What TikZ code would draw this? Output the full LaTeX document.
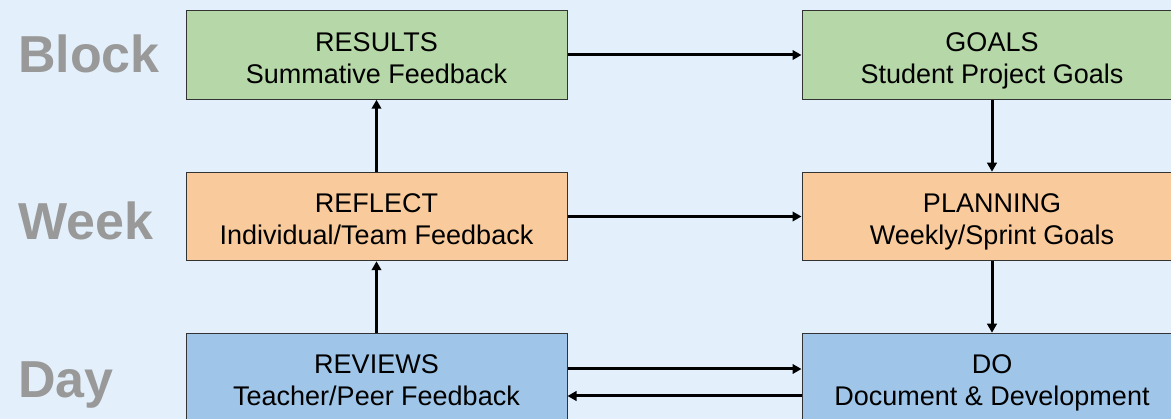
\documentclass[tikz,border=0pt]{standalone}
\usepackage{fontspec}
\setmainfont{Liberation Sans}
\usetikzlibrary{arrows.meta}
\definecolor{bgblue}{HTML}{E3F0FB}
\definecolor{boxgreen}{HTML}{B6D7A8}
\definecolor{boxorange}{HTML}{F9CB9C}
\definecolor{boxblue}{HTML}{9FC5E8}
\definecolor{labelgray}{HTML}{999999}
\definecolor{edgegray}{HTML}{333333}
\tikzset{
  stagebox/.style={draw=edgegray, line width=1pt, minimum height=88.5pt,
    inner sep=0pt},
  leftbox/.style={stagebox, minimum width=381pt},
  rightbox/.style={stagebox, minimum width=380pt},
  stagetext/.style={anchor=base, inner sep=0pt,
    font=\fontsize{27}{31}\selectfont},
  flow/.style={line width=3pt, -{Triangle[length=9pt,width=9.5pt]}},
  levellabel/.style={anchor=base west, inner sep=0pt, text=labelgray,
    font=\fontsize{52}{52}\selectfont\bfseries},
}
% title line sits 3.5pt above the box centre, subtitle 28.5pt below it
\newcommand{\stagelines}[3]{%
  \node[stagetext] (#1-title) at ([yshift=3.5pt]#1.center) {#2};
  \node[stagetext] (#1-sub)   at ([yshift=-28.5pt]#1.center) {#3};
}
\begin{document}
\begin{tikzpicture}[x=1pt,y=-1pt]
  \clip (0,0) rectangle (1171,419);
  \fill[bgblue] (0,0) rectangle (1171,419);

  % time-scale labels
  \node[levellabel] (lblock) at (18,73)  {Block};
  \node[levellabel] (lweek)  at (18,240) {Week};
  \node[levellabel] (lday)   at (18,398) {Day};

  % stage boxes
  \node[leftbox, fill=boxgreen]   (results)  at (376.5,55)    {};
  \node[rightbox, fill=boxgreen]  (goals)    at (992,55)      {};
  \node[leftbox, fill=boxorange]  (reflect)  at (376.5,216.5) {};
  \node[rightbox, fill=boxorange] (planning) at (992,216.5)   {};
  \node[leftbox, fill=boxblue]    (reviews)  at (376.5,377.5) {};
  \node[rightbox, fill=boxblue]   (do)       at (992,377.5)   {};

  \stagelines{results}{RESULTS}{Summative Feedback}
  \stagelines{goals}{GOALS}{Student Project Goals}
  \stagelines{reflect}{REFLECT}{Individual/Team Feedback}
  \stagelines{planning}{PLANNING}{Weekly/Sprint Goals}
  \stagelines{reviews}{REVIEWS}{Teacher/Peer Feedback}
  \stagelines{do}{DO}{Document \& Development}

  % connectors
  \draw[flow] (results.east) -- (goals.west);
  \draw[flow] (reflect.east) -- (planning.west);
  \draw[flow] (goals.south) -- (planning.north);
  \draw[flow] (planning.south) -- (do.north);
  \draw[flow] (reviews.north) -- (reflect.south);
  \draw[flow] (reflect.north) -- (results.south);
  \draw[flow] ([yshift=8.5pt]reviews.east) -- ([yshift=8.5pt]do.west);
  \draw[flow] ([yshift=-18.5pt]do.west) -- ([yshift=-18.5pt]reviews.east);
\end{tikzpicture}
\end{document}
